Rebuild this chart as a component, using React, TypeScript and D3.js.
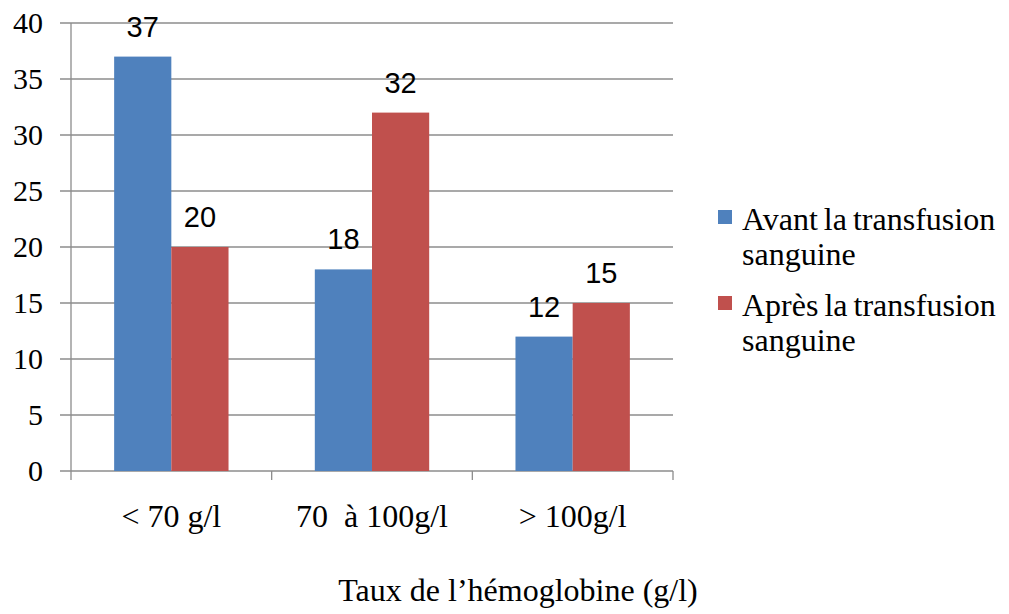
import React from "react";
import * as d3 from "d3";

const categories = ["< 70 g/l", "70  à 100g/l", "> 100g/l"];
const avant = [37, 18, 12];
const apres = [20, 32, 15];
const yTicks = [0, 5, 10, 15, 20, 25, 30, 35, 40];
const colors = ["#4F81BD", "#C0504D"];
const legendLines = [["Avant la transfusion", "sanguine"], ["Après la transfusion", "sanguine"]];
const xTitle = "Taux de l’hémoglobine (g/l)";

export default function App() {
  const W = 1009, H = 614;
  const left = 71, right = 673, top = 23, bottom = 471;
  const y = d3.scaleLinear().domain([0, 40]).range([bottom, top]);
  const x0 = d3.scaleBand().domain(categories).range([left, right]).paddingInner(0).paddingOuter(0);
  const series = [avant, apres];
  const bw = x0.bandwidth();
  const groupW = bw * 0.57;
  const x1 = d3.scaleBand().domain(["0", "1"]).range([0, groupW]);
  const serif = "'Liberation Serif', 'Times New Roman', serif";
  const sans = "'Liberation Sans', Arial, sans-serif";
  return (
    <svg width={W} height={H} style={{ position: "absolute", left: 0, top: 0 }}>
      <rect width={W} height={H} fill="#fff" />
      {yTicks.map((t) => (
        <g key={t}>
          <line x1={60} x2={right} y1={y(t)} y2={y(t)} stroke="#8c8c8c" strokeWidth={1.3} />
          <text x={43} y={y(t) + 10} textAnchor="end" fontFamily={serif} fontSize={30} fill="#000">{t}</text>
        </g>
      ))}
      <line x1={left} x2={left} y1={top} y2={bottom + 9} stroke="#8c8c8c" strokeWidth={1.3} />
      {categories.map((c) => (
        <line key={c} x1={(x0(c) as number) + bw} x2={(x0(c) as number) + bw} y1={bottom} y2={bottom + 9} stroke="#8c8c8c" strokeWidth={1.3} />
      ))}
      {series.map((vals, s) =>
        vals.map((v, i) => {
          const gx = (x0(categories[i]) as number) + (bw - groupW) / 2 + (x1(String(s)) as number);
          return (
            <g key={`${s}-${i}`}>
              <rect x={gx} y={y(v)} width={x1.bandwidth()} height={bottom - y(v)} fill={colors[s]} />
              <text x={gx + x1.bandwidth() / 2} y={y(v) - 20} textAnchor="middle" fontFamily={sans} fontSize={29} fill="#000">{v}</text>
            </g>
          );
        })
      )}
      {categories.map((c) => (
        <text key={c} x={(x0(c) as number) + bw / 2} y={527} textAnchor="middle" fontFamily={serif} fontSize={32} fill="#000" style={{ whiteSpace: "pre" }}>{c}</text>
      ))}
      <text x={518} y={601} textAnchor="middle" fontFamily={serif} fontSize={32} fill="#000">{xTitle}</text>
      {legendLines.map((lines, s) => (
        <g key={s} transform={`translate(718, ${210 + s * 86})`}>
          <rect x={0} y={0} width={14} height={14} fill={colors[s]} />
          <text x={24} y={20} fontFamily={serif} fontSize={32} fill="#000" wordSpacing={-2}>{lines[0]}</text>
          <text x={24} y={55} fontFamily={serif} fontSize={32} fill="#000">{lines[1]}</text>
        </g>
      ))}
    </svg>
  );
}
